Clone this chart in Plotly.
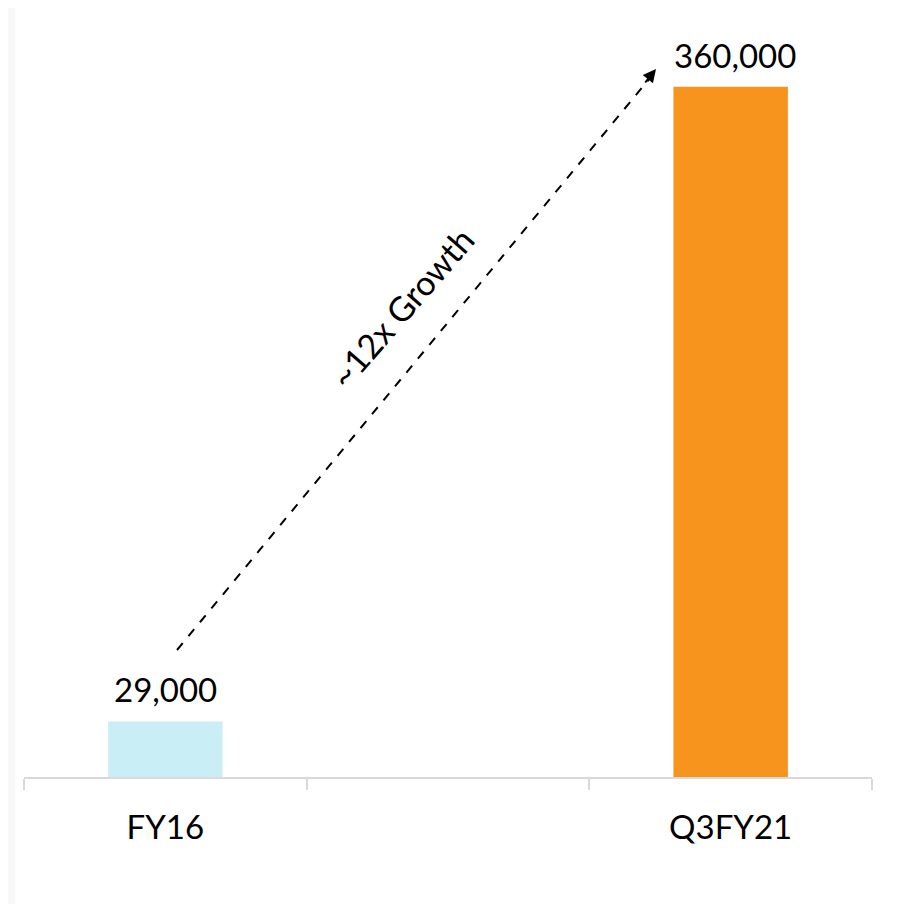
import plotly.graph_objects as go

categories = ["FY16", " ", "Q3FY21"]
values = [29000, None, 360000]
bar_colors = ["#c9eef6", "#ffffff", "#f7941d"]
value_labels = ["29,000", "", "360,000"]
growth_text = "~12x Growth"

FONT = "Lato, 'Open Sans', sans-serif"

fig = go.Figure()
fig.add_trace(go.Bar(
    x=categories, y=values, marker=dict(color=bar_colors, line=dict(width=0)),
    width=0.405, hoverinfo="skip", showlegend=False,
))

# value labels
for c, v, lab in zip(categories, values, value_labels):
    if v is None:
        continue
    fig.add_annotation(
        x=c, y=v, xref="x", yref="y", text=lab, showarrow=False,
        yanchor="middle", yshift=32, xshift=4 if v > 100000 else 0,
        font=dict(family=FONT, size=33, color="#000000"),
    )

# dashed growth arrow (page coords -> paper coords; plot area page x 24..872, y 10..777)
def px(xp):
    return (xp - 24) / 848.0

def py(yp):
    return (777 - yp) / 767.0

x0, y0 = 177, 650
x1, y1 = 650, 78
fig.add_shape(type="line", xref="paper", yref="paper",
              x0=px(x0), y0=py(y0), x1=px(x1), y1=py(y1),
              line=dict(color="#000000", width=2, dash="dash"))
fig.add_annotation(xref="paper", yref="paper", axref="pixel", ayref="pixel",
                   x=px(656), y=py(69), ax=-12, ay=15,
                   text="", showarrow=True, arrowhead=2, arrowsize=1.3,
                   arrowwidth=2, arrowcolor="#000000")

fig.add_annotation(xref="paper", yref="paper", x=px(401), y=py(307),
                   text=growth_text, showarrow=False, textangle=-49,
                   font=dict(family=FONT, size=34, color="#000000"))

# frame edges
fig.add_shape(type="rect", xref="paper", yref="paper", layer="below",
              x0=px(0), x1=px(15), y0=py(904), y1=py(0),
              fillcolor="#f8f8f8", line=dict(width=0))
fig.add_shape(type="rect", xref="paper", yref="paper",
              x0=px(900), x1=px(903), y0=py(904), y1=py(0),
              fillcolor="#bdbdbd", line=dict(width=0))
fig.add_shape(type="rect", xref="paper", yref="paper",
              x0=px(903), x1=px(907), y0=py(904), y1=py(0),
              fillcolor="#d6d6d6", line=dict(width=0))

fig.update_layout(
    width=899, height=896,
    margin=dict(l=16, r=35, t=2, b=127),
    paper_bgcolor="#ffffff", plot_bgcolor="#ffffff",
    bargap=0.6,
    xaxis=dict(
        type="category", categoryorder="array", categoryarray=categories,
        tickson="boundaries", ticks="outside", ticklen=11, tickwidth=2,
        tickcolor="#d9d9d9", showline=True, linecolor="#d9d9d9", linewidth=2,
        showgrid=False, zeroline=False, fixedrange=True, ticklabelstandoff=20,
        tickfont=dict(family=FONT, size=33, color="#000000"),
    ),
    yaxis=dict(range=[0, 400000], visible=False, showgrid=False, zeroline=False),
    font=dict(family=FONT),
)

fig.write_html("out.html")
